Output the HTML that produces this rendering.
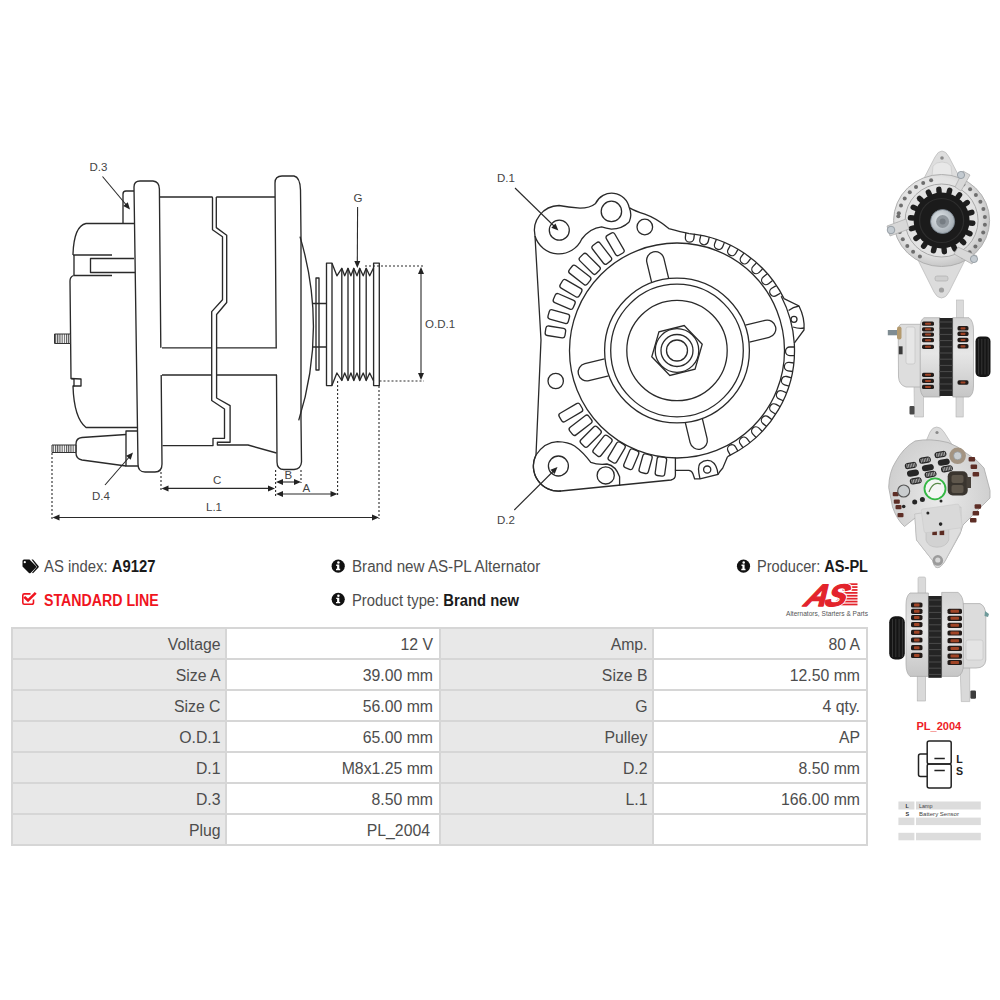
<!DOCTYPE html>
<html><head><meta charset="utf-8">
<style>
html,body{margin:0;padding:0;background:#fff;width:1000px;height:1000px;overflow:hidden;position:relative}
body{font-family:"Liberation Sans",sans-serif;color:#4d4d4d}
.abs{position:absolute;white-space:nowrap;transform-origin:0 0}
.t{font-size:15.8px;line-height:18px}
.b{font-weight:bold;color:#1a1a1a}
.red{color:#f0141e;font-weight:bold}
table.spec{position:absolute;left:11px;top:627px;border-collapse:collapse;table-layout:fixed}
table.spec td{border:2px solid #d6d6d6;height:26.5px;padding:2.5px 6px 0 0;text-align:right;font-size:15.8px;color:#4d4d4d;line-height:26.5px;white-space:nowrap}
table.spec td.l{background:#e8e8e8;padding-right:4.5px}
</style></head>
<body>
<svg width="1000" height="1000" viewBox="0 0 1000 1000" style="position:absolute;left:0;top:0">
<defs>
<pattern id="thr" width="2.2" height="10" patternUnits="userSpaceOnUse"><rect width="2.2" height="10" fill="#fff"/><rect width="1.1" height="10" fill="#555"/></pattern>

<radialGradient id="g1" cx="0.45" cy="0.45" r="0.6"><stop offset="0" stop-color="#eeeeee"/><stop offset="0.7" stop-color="#e2e2e2"/><stop offset="1" stop-color="#bdbdbd"/></radialGradient>
<radialGradient id="g2" cx="0.4" cy="0.4" r="0.7"><stop offset="0" stop-color="#e5eaee"/><stop offset="1" stop-color="#9aa3aa"/></radialGradient>
<linearGradient id="g3" x1="0" y1="0" x2="0" y2="1"><stop offset="0" stop-color="#d4d4d4"/><stop offset="0.45" stop-color="#e6e6e6"/><stop offset="1" stop-color="#c6c6c6"/></linearGradient>
<radialGradient id="g4" cx="0.5" cy="0.45" r="0.65"><stop offset="0" stop-color="#eaeaea"/><stop offset="1" stop-color="#c8c8c8"/></radialGradient>

</defs>
<g fill="none" stroke="#2a2a2a" stroke-width="1.35" stroke-linejoin="round">
<path d="M160.8,347.8 L159.4,189 Q159.2,181.5 153,181 L140,181 Q134,181 134,187 L138,464 Q138,472 145,472 L155,472 Q162,472 162,464 L161.2,375"/>
<path d="M134,191 L126,191 Q123,191 123,194 L123,223"/>
<path d="M134,223.5 L86,223.5 Q74,226 73,254 L73,255"/>
<path d="M73,255 L112,255"/>
<path d="M134,258.5 L90.5,258.5 L90.5,272.5 L135,272.5"/>
<path d="M74,255 L74,275.5"/>
<path d="M73.5,275.5 L112,275.5"/>
<path d="M73.5,275.5 Q70,277 70,281 L71,378.5 L74,379 L74,386 L73,386 Q74,418 86,427.5 L138,427.5"/>
<path d="M71,378.5 L81,379 L81,386 L73,386"/>
<rect x="54.5" y="334" width="16" height="9.5" fill="url(#thr)" stroke="#333" stroke-width="1"/>
<path d="M126,434.5 L82,437.5 Q76,438 76,444 L76,453 Q76,459 82,460 L126,466"/>
<path d="M138,431 L126,431 L126,466 L138,466"/>
<rect x="52" y="445" width="24" height="7.5" fill="url(#thr)" stroke="#333" stroke-width="1"/>
<path d="M160,197 L212,197 Q212.5,197 212.5,198 L212.5,229.7 L222.5,236.7 L222.5,299.7 L211.7,311.6 L211.7,400.5 L224.5,409 L224.5,438.3 L213,438.3 L213,445.6 L162.5,445.6"/>
<path d="M216.3,197 L275,197"/>
<path d="M216.3,197 L216.3,227.6 L226.7,235.3 L226.7,302.5 L216.6,314.5 L216.6,398 L230.1,405.6 L230.1,442.2 L217.4,442.2 L217.4,445 L248,445 L276.5,453"/>
<path d="M162,347.8 L211.7,347.8 M216.6,347.8 L277,347.8"/>
<path d="M162,375 L211.7,375 M216.6,375 L277,375"/>
<path d="M276.2,347.8 L275,183 Q275,176 282,176 L294,176 Q300,177 300.5,190 L301,237 L301,420 L301.5,462 Q301,469 294,469.5 L284,469.5 Q277,469.5 277,462 L276.5,375"/>
<path d="M300,236.6 Q327.5,328.5 298.7,420.4"/>
<path d="M316,278 L319,278 L319,370 L316,370 Z"/>
<path d="M313,303.5 L326.5,303.5 M313,347 L326.5,347"/>
<path d="M326.5,385.6 L326.5,263.1 L332,263.1 L332,385.6 Z"/>
<path d="M373.6,385.6 L373.6,263.1 L379.3,263.1 L379.3,385.6 Z"/>
<path d="M332,263.3 L336.9,275.8 L341.8,268.3 L344.7,275.8 L348,268.3 L350.9,275.8 L353.8,268.3 L357,275.8 L359.7,268.3 L363.2,275.8 L366.2,268.3 L369.7,275.8 L373.6,267.7"/>
<path d="M332,385.3 L336.9,373 L341.8,380.5 L344.7,373 L348,380.5 L350.9,373 L353.8,380.5 L357,373 L359.7,380.5 L363.2,373 L366.2,380.5 L369.7,373 L373.6,381"/>
<path d="M341.8,268.3 L341.8,380.5"/>
<path d="M348,268.3 L348,380.5"/>
<path d="M353.8,268.3 L353.8,380.5"/>
<path d="M359.7,268.3 L359.7,380.5"/>
<path d="M366.2,268.3 L366.2,380.5"/>
</g>
<g fill="none" stroke="#2a2a2a" stroke-width="1.1">
<path d="M102.5,176.5 L128,207"/>
<path d="M0,0 L-7,-3 L-7,3 Z" transform="translate(130,209.5) rotate(50)" fill="#222" stroke="none"/>
<path d="M357.6,207 L357.3,262"/>
<path d="M0,0 L-7,-3 L-7,3 Z" transform="translate(357.3,268) rotate(90)" fill="#222" stroke="none"/>
<path d="M365,266 L423,266" stroke-dasharray="2,2"/>
<path d="M379.5,381 L424,381" stroke-dasharray="2,2"/>
<path d="M421,272 L421,373"/>
<path d="M0,0 L-7,-3 L-7,3 Z" transform="translate(421,267) rotate(-90)" fill="#222" stroke="none"/>
<path d="M0,0 L-7,-3 L-7,3 Z" transform="translate(421,380) rotate(90)" fill="#222" stroke="none"/>
<path d="M105,485 L131,455"/>
<path d="M0,0 L-7,-3 L-7,3 Z" transform="translate(133,452.5) rotate(-49)" fill="#222" stroke="none"/>
<path d="M161,472 L161,491" stroke-dasharray="2,2"/>
<path d="M52,453 L52,519" stroke-dasharray="2,2"/>
<path d="M275.6,470 L275.6,497" stroke-dasharray="2,2"/>
<path d="M301,470 L301,483" stroke-dasharray="2,2"/>
<path d="M337.6,381 L337.6,497" stroke-dasharray="2,2"/>
<path d="M379,386 L379,519" stroke-dasharray="2,2"/>
<path d="M166,488.4 L271,488.4"/>
<path d="M0,0 L-7,-3 L-7,3 Z" transform="translate(161.5,488.4) rotate(180)" fill="#222" stroke="none"/>
<path d="M0,0 L-7,-3 L-7,3 Z" transform="translate(275,488.4) rotate(0)" fill="#222" stroke="none"/>
<path d="M281,482 L296,482"/>
<path d="M0,0 L-7,-3 L-7,3 Z" transform="translate(276,482) rotate(180)" fill="#222" stroke="none"/>
<path d="M0,0 L-7,-3 L-7,3 Z" transform="translate(301,482) rotate(0)" fill="#222" stroke="none"/>
<path d="M281,494 L333,494"/>
<path d="M0,0 L-7,-3 L-7,3 Z" transform="translate(276,494) rotate(180)" fill="#222" stroke="none"/>
<path d="M0,0 L-7,-3 L-7,3 Z" transform="translate(337.5,494) rotate(0)" fill="#222" stroke="none"/>
<path d="M57,517.5 L374,517.5"/>
<path d="M0,0 L-7,-3 L-7,3 Z" transform="translate(52.5,517.5) rotate(180)" fill="#222" stroke="none"/>
<path d="M0,0 L-7,-3 L-7,3 Z" transform="translate(379,517.5) rotate(0)" fill="#222" stroke="none"/>
</g>
<g fill="none" stroke="#2a2a2a" stroke-width="1.3">
<path d="M535,236 L541,340 L536,455 A25,25 0 0 0 561,491 L671,480 Q675.4,479 675.4,475 L675.4,470.4 L689,470.4 Q692,471 693,474 L694.6,478.8 L700,478.8 L718,474.5 Q720,471 722.8,468 L727.4,457"/>
<path d="M675.4,457.5 L675.4,470.4"/>
<path d="M700,478.8 Q697,467 700,463.5 Q705,459 711,461 Q717,464 718,474.5"/>
<path d="M727.4,457 L728.51,456.11 A117.5,117.5 0 0 0 794.28,343.33"/>
<path d="M794.28,343.33 L795,342 L804,330 Q805,318 799,306 L784,298.6"/>
<path d="M781.22,296.24 A117.5,117.5 0 0 1 794.28,343.33"/>
<path d="M788.6,310.5 Q793,307 799,306 M793,327 Q799,329 804.2,328"/>
<path d="M784,298.6 A117.5,117.5 0 0 0 689.28,233.64"/>
<path d="M689.28,233.64 Q681,232 668.8,228.6 Q656.8,218.4 644.8,214.2 Q635,211 629.2,207.6"/>
<path d="M629.2,207.6 A17.8,17.8 0 0 0 595.6,203.4 Q590,208 580,208.2 Q568,207 559,205.5 A25,25 0 0 0 535,236"/>
<path d="M535,236 A25,25 0 0 0 581.8,239 Q590,228 601.6,226.8 Q606,228 611.4,229.2 Q622,229 629.2,222"/>
<path d="M629.2,222 A17.8,17.8 0 0 0 629.2,207.6"/>
<path d="M536,455 Q545,442 557.5,441.7 Q568,442 574.6,446 Q583,452 590.8,462.4 Q598,465 607,464 Q616,466 619.6,476.8 L619.6,485.8"/>
<path d="M536,455 A25,25 0 0 0 561,491"/>
<circle cx="559.3" cy="230.2" r="10"/>
<circle cx="611.4" cy="211.4" r="10.2"/>
<circle cx="644.8" cy="227" r="7.8"/>
<circle cx="558.4" cy="466" r="10"/>
<circle cx="605.7" cy="475.4" r="8.6"/>
<circle cx="555.7" cy="381" r="7.7"/>
<circle cx="707.2" cy="469.6" r="3.6"/>
<circle cx="794" cy="319.3" r="3"/>
<circle cx="677" cy="350.5" r="107.5"/>
<circle cx="677" cy="350.5" r="72.4"/>
<circle cx="677" cy="350.5" r="66.3"/>
<circle cx="677" cy="350.5" r="50.2"/>
<circle cx="677" cy="350.5" r="21.8"/>
<circle cx="677" cy="350.5" r="16"/>
<circle cx="677" cy="350.5" r="10.5"/>
<polygon points="684.17,325.51 702.23,344.21 695.06,369.20 669.83,375.49 651.77,356.79 658.94,331.80"/>
<path d="M0,-8.75 L20.25,-8.75 A8.75,8.75 0 0 1 20.25,8.75 L0,8.75" transform="translate(660.10,280.10) rotate(-103.5)"/>
<path d="M0,-8.75 L20.25,-8.75 A8.75,8.75 0 0 1 20.25,8.75 L0,8.75" transform="translate(747.40,333.60) rotate(-13.5)"/>
<path d="M0,-8.75 L20.25,-8.75 A8.75,8.75 0 0 1 20.25,8.75 L0,8.75" transform="translate(693.90,420.90) rotate(76.5)"/>
<path d="M0,-8.75 L20.25,-8.75 A8.75,8.75 0 0 1 20.25,8.75 L0,8.75" transform="translate(606.60,367.40) rotate(166.5)"/>
<rect x="-11.50" y="-4.80" width="23.00" height="9.60" rx="2.5" transform="translate(615.13,244.19) rotate(-120.20)"/>
<rect x="-11.50" y="-4.80" width="23.00" height="9.60" rx="2.5" transform="translate(601.78,253.18) rotate(-127.70)"/>
<rect x="-11.50" y="-4.80" width="23.00" height="9.60" rx="2.5" transform="translate(589.72,263.83) rotate(-135.20)"/>
<rect x="-11.50" y="-4.80" width="23.00" height="9.60" rx="2.5" transform="translate(579.81,275.11) rotate(-142.20)"/>
<rect x="-11.00" y="-4.80" width="22.00" height="9.60" rx="2.5" transform="translate(570.91,288.26) rotate(-149.60)"/>
<rect x="-10.75" y="-4.80" width="21.50" height="9.60" rx="2.5" transform="translate(564.20,301.45) rotate(-156.50)"/>
<rect x="-10.50" y="-4.80" width="21.00" height="9.60" rx="2.5" transform="translate(558.76,316.60) rotate(-164.00)"/>
<rect x="-10.00" y="-4.80" width="20.00" height="9.60" rx="2.5" transform="translate(555.42,331.89) rotate(-171.30)"/>
<rect x="-12.00" y="-4.80" width="24.00" height="9.60" rx="2.5" transform="translate(570.80,412.56) rotate(149.70)"/>
<rect x="-12.00" y="-4.80" width="24.00" height="9.60" rx="2.5" transform="translate(580.60,425.27) rotate(142.20)"/>
<rect x="-11.50" y="-4.80" width="23.00" height="9.60" rx="2.5" transform="translate(590.73,436.77) rotate(135.00)"/>
<rect x="-11.00" y="-4.80" width="22.00" height="9.60" rx="2.5" transform="translate(602.50,445.85) rotate(128.00)"/>
<rect x="-10.50" y="-4.80" width="21.00" height="9.60" rx="2.5" transform="translate(616.68,452.50) rotate(120.60)"/>
<rect x="-10.00" y="-4.80" width="20.00" height="9.60" rx="2.5" transform="translate(631.27,459.28) rotate(112.80)"/>
<rect x="-9.50" y="-4.80" width="19.00" height="9.60" rx="2.5" transform="translate(645.60,463.73) rotate(105.50)"/>
<rect x="-9.50" y="-4.80" width="19.00" height="9.60" rx="2.5" transform="translate(660.92,466.39) rotate(97.90)"/>
<path d="M0,-4.3 L-4.70,-4.3 A4.3,4.3 0 0 0 -4.70,4.3 L0,4.3" transform="translate(690.15,233.24) rotate(-83.60)"/>
<path d="M0,-4.3 L-4.70,-4.3 A4.3,4.3 0 0 0 -4.70,4.3 L0,4.3" transform="translate(705.15,235.91) rotate(-76.20)"/>
<path d="M0,-4.3 L-4.70,-4.3 A4.3,4.3 0 0 0 -4.70,4.3 L0,4.3" transform="translate(720.44,240.79) rotate(-68.40)"/>
<path d="M0,-4.3 L-4.70,-4.3 A4.3,4.3 0 0 0 -4.70,4.3 L0,4.3" transform="translate(734.21,247.29) rotate(-61.00)"/>
<path d="M0,-4.3 L-4.70,-4.3 A4.3,4.3 0 0 0 -4.70,4.3 L0,4.3" transform="translate(747.35,255.77) rotate(-53.40)"/>
<path d="M0,-4.3 L-4.70,-4.3 A4.3,4.3 0 0 0 -4.70,4.3 L0,4.3" transform="translate(759.41,266.05) rotate(-45.70)"/>
<path d="M0,-4.3 L-4.70,-4.3 A4.3,4.3 0 0 0 -4.70,4.3 L0,4.3" transform="translate(769.60,277.37) rotate(-38.30)"/>
<path d="M0,-4.3 L-4.70,-4.3 A4.3,4.3 0 0 0 -4.70,4.3 L0,4.3" transform="translate(778.04,289.55) rotate(-31.10)"/>
<path d="M0,-4.3 L-4.70,-4.3 A4.3,4.3 0 0 0 -4.70,4.3 L0,4.3" transform="translate(794.50,351.32) rotate(0.40)"/>
<path d="M0,-4.3 L-4.70,-4.3 A4.3,4.3 0 0 0 -4.70,4.3 L0,4.3" transform="translate(793.30,367.26) rotate(8.20)"/>
<path d="M0,-4.3 L-4.70,-4.3 A4.3,4.3 0 0 0 -4.70,4.3 L0,4.3" transform="translate(790.23,381.90) rotate(15.50)"/>
<path d="M0,-4.3 L-4.70,-4.3 A4.3,4.3 0 0 0 -4.70,4.3 L0,4.3" transform="translate(785.00,396.79) rotate(23.20)"/>
<path d="M0,-4.3 L-4.70,-4.3 A4.3,4.3 0 0 0 -4.70,4.3 L0,4.3" transform="translate(778.03,410.49) rotate(30.70)"/>
<path d="M0,-4.3 L-4.70,-4.3 A4.3,4.3 0 0 0 -4.70,4.3 L0,4.3" transform="translate(769.34,423.16) rotate(38.20)"/>
<path d="M0,-4.3 L-4.70,-4.3 A4.3,4.3 0 0 0 -4.70,4.3 L0,4.3" transform="translate(759.21,434.45) rotate(45.60)"/>
<path d="M0,-4.3 L-4.70,-4.3 A4.3,4.3 0 0 0 -4.70,4.3 L0,4.3" transform="translate(746.56,445.20) rotate(53.70)"/>
<path d="M0,-4.3 L-4.70,-4.3 A4.3,4.3 0 0 0 -4.70,4.3 L0,4.3" transform="translate(734.14,453.17) rotate(60.90)"/>
</g>
<g fill="none" stroke="#2a2a2a" stroke-width="1.1">
<path d="M515,188 L555,227"/>
<path d="M0,0 L-7,-3 L-7,3 Z" transform="translate(558.4,230.5) rotate(44.5)" fill="#222" stroke="none"/>
<path d="M514.3,510 L554,470.5"/>
<path d="M0,0 L-7,-3 L-7,3 Z" transform="translate(557.5,467) rotate(-45)" fill="#222" stroke="none"/>
</g>
<g font-family="Liberation Sans" font-size="11.5" fill="#444">
<text x="89.4" y="171">D.3</text>
<text x="353.4" y="201.6">G</text>
<text x="425" y="328">O.D.1</text>
<text x="92" y="500">D.4</text>
<text x="213" y="484.4">C</text>
<text x="284.6" y="479">B</text>
<text x="302.6" y="491.6">A</text>
<text x="206" y="511">L.1</text>
<text x="497" y="182">D.1</text>
<text x="497" y="523.6">D.2</text>
</g>
<path d="M942,151 Q946,151 949,157 L965,188 L919,188 L935,157 Q938,151 942,151 Z" fill="#dedede" stroke="#bcbcbc" stroke-width="0.8"/>
<path d="M941.5,298 Q937,298 934,292 L917,258 L966,258 L949,292 Q946,298 941.5,298 Z" fill="#dcdcdc" stroke="#bcbcbc" stroke-width="0.8"/>
<circle cx="942" cy="158" r="1.8" fill="#8a8a8a"/>
<circle cx="941.5" cy="290" r="2.6" fill="#a0a0a0"/>
<rect x="935" y="276" width="13" height="5" rx="2" fill="#cfcfcf" stroke="#aaa" stroke-width="0.6"/>
<path d="M933,166 Q936,162 942,162 Q948,162 951,166 L952,176 L932,176 Z" fill="#e8e8e8" stroke="#c4c4c4" stroke-width="0.6"/>
<ellipse cx="941.6" cy="220.5" rx="48" ry="46" fill="url(#g1)" stroke="#b0b0b0" stroke-width="1"/>
<circle cx="898.8" cy="213.3" r="2" fill="#6e6e6e"/>
<circle cx="901.0" cy="205.6" r="2" fill="#6e6e6e"/>
<circle cx="904.7" cy="198.5" r="2" fill="#6e6e6e"/>
<circle cx="909.8" cy="192.2" r="2" fill="#6e6e6e"/>
<circle cx="916.0" cy="186.9" r="2" fill="#6e6e6e"/>
<circle cx="923.2" cy="182.9" r="2" fill="#6e6e6e"/>
<circle cx="931.1" cy="180.2" r="2" fill="#6e6e6e"/>
<circle cx="963.4" cy="184.6" r="2" fill="#6e6e6e"/>
<circle cx="970.1" cy="189.2" r="2" fill="#6e6e6e"/>
<circle cx="975.9" cy="195.0" r="2" fill="#6e6e6e"/>
<circle cx="980.4" cy="201.7" r="2" fill="#6e6e6e"/>
<circle cx="983.4" cy="209.1" r="2" fill="#6e6e6e"/>
<circle cx="984.9" cy="216.9" r="2" fill="#6e6e6e"/>
<circle cx="984.9" cy="224.8" r="2" fill="#6e6e6e"/>
<circle cx="983.2" cy="232.6" r="2" fill="#6e6e6e"/>
<circle cx="980.0" cy="240.0" r="2" fill="#6e6e6e"/>
<circle cx="975.4" cy="246.6" r="2" fill="#6e6e6e"/>
<circle cx="969.6" cy="252.3" r="2" fill="#6e6e6e"/>
<circle cx="962.7" cy="256.8" r="2" fill="#6e6e6e"/>
<circle cx="919.9" cy="256.4" r="2" fill="#6e6e6e"/>
<circle cx="913.1" cy="251.8" r="2" fill="#6e6e6e"/>
<circle cx="907.3" cy="246.0" r="2" fill="#6e6e6e"/>
<circle cx="902.8" cy="239.3" r="2" fill="#6e6e6e"/>
<circle cx="899.8" cy="231.9" r="2" fill="#6e6e6e"/>
<circle cx="898.3" cy="224.1" r="2" fill="#6e6e6e"/>
<circle cx="898.3" cy="216.2" r="2" fill="#6e6e6e"/>
<circle cx="941.6" cy="220.5" r="36.5" fill="#e2e2e2" stroke="#a8a8a8" stroke-width="1"/>
<rect x="-4" y="-2.7" width="8" height="5.4" rx="2.6" fill="#1e1e1e" transform="translate(941.6,220.5) rotate(5) translate(30,0)"/>
<rect x="-4" y="-2.7" width="8" height="5.4" rx="2.6" fill="#1e1e1e" transform="translate(941.6,220.5) rotate(25) translate(30,0)"/>
<rect x="-4" y="-2.7" width="8" height="5.4" rx="2.6" fill="#1e1e1e" transform="translate(941.6,220.5) rotate(45) translate(30,0)"/>
<rect x="-4" y="-2.7" width="8" height="5.4" rx="2.6" fill="#1e1e1e" transform="translate(941.6,220.5) rotate(65) translate(30,0)"/>
<rect x="-4" y="-2.7" width="8" height="5.4" rx="2.6" fill="#1e1e1e" transform="translate(941.6,220.5) rotate(85) translate(30,0)"/>
<rect x="-4" y="-2.7" width="8" height="5.4" rx="2.6" fill="#1e1e1e" transform="translate(941.6,220.5) rotate(105) translate(30,0)"/>
<rect x="-4" y="-2.7" width="8" height="5.4" rx="2.6" fill="#1e1e1e" transform="translate(941.6,220.5) rotate(125) translate(30,0)"/>
<rect x="-4" y="-2.7" width="8" height="5.4" rx="2.6" fill="#1e1e1e" transform="translate(941.6,220.5) rotate(145) translate(30,0)"/>
<rect x="-4" y="-2.7" width="8" height="5.4" rx="2.6" fill="#1e1e1e" transform="translate(941.6,220.5) rotate(165) translate(30,0)"/>
<rect x="-4" y="-2.7" width="8" height="5.4" rx="2.6" fill="#1e1e1e" transform="translate(941.6,220.5) rotate(185) translate(30,0)"/>
<rect x="-4" y="-2.7" width="8" height="5.4" rx="2.6" fill="#1e1e1e" transform="translate(941.6,220.5) rotate(205) translate(30,0)"/>
<rect x="-4" y="-2.7" width="8" height="5.4" rx="2.6" fill="#1e1e1e" transform="translate(941.6,220.5) rotate(225) translate(30,0)"/>
<rect x="-4" y="-2.7" width="8" height="5.4" rx="2.6" fill="#1e1e1e" transform="translate(941.6,220.5) rotate(245) translate(30,0)"/>
<rect x="-4" y="-2.7" width="8" height="5.4" rx="2.6" fill="#1e1e1e" transform="translate(941.6,220.5) rotate(265) translate(30,0)"/>
<rect x="-4" y="-2.7" width="8" height="5.4" rx="2.6" fill="#1e1e1e" transform="translate(941.6,220.5) rotate(285) translate(30,0)"/>
<rect x="-4" y="-2.7" width="8" height="5.4" rx="2.6" fill="#1e1e1e" transform="translate(941.6,220.5) rotate(305) translate(30,0)"/>
<rect x="-4" y="-2.7" width="8" height="5.4" rx="2.6" fill="#1e1e1e" transform="translate(941.6,220.5) rotate(325) translate(30,0)"/>
<rect x="-4" y="-2.7" width="8" height="5.4" rx="2.6" fill="#1e1e1e" transform="translate(941.6,220.5) rotate(345) translate(30,0)"/>
<circle cx="941.6" cy="220.5" r="28" fill="#1b1b1b"/>
<circle cx="941.6" cy="220.5" r="22" fill="none" stroke="#2e2e2e" stroke-width="1.2"/>
<circle cx="942.6" cy="221.5" r="12" fill="url(#g2)" stroke="#7a8590" stroke-width="0.8"/>
<circle cx="942.6" cy="221.5" r="6.5" fill="#8f969c"/>
<circle cx="942.6" cy="221.5" r="3" fill="#767d83"/>
<path d="M887,226 L906,219 L909,229 L890,236 Z" fill="#d8d8d8" stroke="#a9a9a9" stroke-width="0.7"/>
<circle cx="891" cy="230" r="3.8" fill="#c3cad0" stroke="#8a939a" stroke-width="0.8"/>
<path d="M955,187 L963,171 L970,175 L961,191 Z" fill="#d8d8d8" stroke="#a9a9a9" stroke-width="0.7"/>
<circle cx="961" cy="175" r="3.6" fill="#c3cad0" stroke="#8a939a" stroke-width="0.8"/>
<path d="M958,247 L977,256 L972,264 L954,254 Z" fill="#d8d8d8" stroke="#a9a9a9" stroke-width="0.7"/>
<circle cx="974" cy="259" r="3.6" fill="#c3cad0" stroke="#8a939a" stroke-width="0.8"/>
<rect x="956.5" y="300" width="6.8" height="20" fill="#dadada" stroke="#b8b8b8" stroke-width="0.6"/>
<path d="M914,386 L923.5,386 L923.5,417 L914.5,417 Z" fill="#d9d9d9" stroke="#b3b3b3" stroke-width="0.6"/>
<rect x="909.5" y="406" width="5" height="8.5" rx="1" fill="#4a4a4a"/>
<rect x="956" y="392" width="7.2" height="25" fill="#d9d9d9" stroke="#b3b3b3" stroke-width="0.6"/>
<path d="M901,324.3 L921,324.3 L921,387 L906,387 Q899,385 898.5,377 L898.2,331 Q898.5,325 901,324.3 Z" fill="#dddddd" stroke="#b0b0b0" stroke-width="0.8"/>
<rect x="906" y="327" width="9" height="37" rx="2" fill="#e6e6e6" stroke="#c0c0c0" stroke-width="0.6"/>
<rect x="898.8" y="346.3" width="3.8" height="8" fill="#3a3a3a"/>
<path d="M887.8,330 L897,330 L897,335.3 L887.8,335.3 Z" fill="#7f8c92"/>
<rect x="897" y="326.5" width="4.5" height="13" rx="2" fill="#b49a6e"/>
<path d="M924,317.7 L940,317.7 L940,397 L924,397 Q920.2,394 920.2,386 L920.2,328 Q920.2,320 924,317.7 Z" fill="url(#g3)" stroke="#a8a8a8" stroke-width="0.7"/>
<path d="M952.7,317.7 L969,317.7 Q973.5,321 973.5,330 L973.5,386 Q973.5,395 969,397 L952.7,397 Z" fill="url(#g3)" stroke="#a8a8a8" stroke-width="0.7"/>
<rect x="922" y="321.6" width="12" height="4.2" rx="1.6" fill="#221b19"/>
<rect x="925.0" y="322.7" width="6.0" height="2.0" rx="0.8" fill="#a04426"/>
<rect x="922" y="327.2" width="12" height="4.2" rx="1.6" fill="#221b19"/>
<rect x="925.0" y="328.3" width="6.0" height="2.0" rx="0.8" fill="#a04426"/>
<rect x="922" y="332.5" width="12" height="4.2" rx="1.6" fill="#221b19"/>
<rect x="925.0" y="333.6" width="6.0" height="2.0" rx="0.8" fill="#a04426"/>
<rect x="922" y="338.1" width="12" height="4.2" rx="1.6" fill="#221b19"/>
<rect x="925.0" y="339.2" width="6.0" height="2.0" rx="0.8" fill="#a04426"/>
<rect x="922" y="344.7" width="12" height="4.2" rx="1.6" fill="#221b19"/>
<rect x="925.0" y="345.8" width="6.0" height="2.0" rx="0.8" fill="#a04426"/>
<rect x="922" y="372.7" width="12" height="4.2" rx="1.6" fill="#221b19"/>
<rect x="925.0" y="373.8" width="6.0" height="2.0" rx="0.8" fill="#a04426"/>
<rect x="922" y="378.8" width="12" height="4.2" rx="1.6" fill="#221b19"/>
<rect x="925.0" y="379.9" width="6.0" height="2.0" rx="0.8" fill="#a04426"/>
<rect x="922" y="384.8" width="12" height="4.2" rx="1.6" fill="#221b19"/>
<rect x="925.0" y="385.9" width="6.0" height="2.0" rx="0.8" fill="#a04426"/>
<rect x="957.5" y="326.1" width="11.0" height="4.4" rx="1.6" fill="#221b19"/>
<rect x="960.5" y="327.2" width="5.0" height="2.2" rx="0.8" fill="#a04426"/>
<rect x="957.5" y="331.6" width="11.0" height="4.4" rx="1.6" fill="#221b19"/>
<rect x="960.5" y="332.7" width="5.0" height="2.2" rx="0.8" fill="#a04426"/>
<rect x="957.5" y="337.8" width="11.0" height="4.4" rx="1.6" fill="#221b19"/>
<rect x="960.5" y="338.9" width="5.0" height="2.2" rx="0.8" fill="#a04426"/>
<rect x="957.5" y="344.1" width="11.0" height="4.4" rx="1.6" fill="#221b19"/>
<rect x="960.5" y="345.2" width="5.0" height="2.2" rx="0.8" fill="#a04426"/>
<rect x="957.5" y="380.3" width="11.0" height="4.4" rx="1.6" fill="#221b19"/>
<rect x="960.5" y="381.4" width="5.0" height="2.2" rx="0.8" fill="#a04426"/>
<rect x="939.5" y="318" width="13.200000000000045" height="78" fill="#242424"/>
<line x1="939.5" y1="322.0" x2="952.7" y2="322.0" stroke="#565656" stroke-width="0.8"/>
<line x1="939.5" y1="328.2" x2="952.7" y2="328.2" stroke="#565656" stroke-width="0.8"/>
<line x1="939.5" y1="334.4" x2="952.7" y2="334.4" stroke="#565656" stroke-width="0.8"/>
<line x1="939.5" y1="340.6" x2="952.7" y2="340.6" stroke="#565656" stroke-width="0.8"/>
<line x1="939.5" y1="346.8" x2="952.7" y2="346.8" stroke="#565656" stroke-width="0.8"/>
<line x1="939.5" y1="353.0" x2="952.7" y2="353.0" stroke="#565656" stroke-width="0.8"/>
<line x1="939.5" y1="359.2" x2="952.7" y2="359.2" stroke="#565656" stroke-width="0.8"/>
<line x1="939.5" y1="365.4" x2="952.7" y2="365.4" stroke="#565656" stroke-width="0.8"/>
<line x1="939.5" y1="371.6" x2="952.7" y2="371.6" stroke="#565656" stroke-width="0.8"/>
<line x1="939.5" y1="377.8" x2="952.7" y2="377.8" stroke="#565656" stroke-width="0.8"/>
<line x1="939.5" y1="384.0" x2="952.7" y2="384.0" stroke="#565656" stroke-width="0.8"/>
<line x1="939.5" y1="390.2" x2="952.7" y2="390.2" stroke="#565656" stroke-width="0.8"/>
<rect x="975.5" y="336.4" width="15" height="40.6" rx="5" fill="#151515"/>
<line x1="978.6" y1="339" x2="978.6" y2="374.5" stroke="#3a3a3a" stroke-width="0.9"/>
<line x1="981.8" y1="339" x2="981.8" y2="374.5" stroke="#3a3a3a" stroke-width="0.9"/>
<line x1="985" y1="339" x2="985" y2="374.5" stroke="#3a3a3a" stroke-width="0.9"/>
<line x1="988.2" y1="339" x2="988.2" y2="374.5" stroke="#3a3a3a" stroke-width="0.9"/>
<path d="M936.7,427 Q941,427 944,432 L953,446 L924,446 L930,432 Q932.5,427 936.7,427 Z" fill="#dcdcdc" stroke="#b5b5b5" stroke-width="0.7"/>
<circle cx="937" cy="432.5" r="1.6" fill="#8a8a8a"/>
<path d="M915,441 Q930,438 948,442.5 Q958,446 966,453 Q978,460 984,468 L990,490.5 L990,498 Q982,506 975,513 L963,525 L960,534 L945,561 Q941,567.7 937.5,567.7 Q934,567.7 933,561 L916.5,540 L915,518 L904.5,526.5 Q897,520 892.5,507 L888.7,487.5 Q889,472 895.5,462 Q903,448 915,441 Z" fill="url(#g4)" stroke="#a8a8a8" stroke-width="0.8"/>
<path d="M914.7,514 L961,507 L961,531 L945,561 Q941,567.5 937.5,567.5 Q934,567.5 933,561 L916.5,540 Z" fill="#dedede" stroke="#b8b8b8" stroke-width="0.6"/>
<path d="M926,520 L948.8,520 L948.8,540 Q946,547.2 937,547.2 Q928,547 926,540 Z" fill="#d2d2d2" stroke="#bbb" stroke-width="0.6"/>
<rect x="932.3" y="529.6" width="4.6" height="5.5" fill="#5a2a20"/><rect x="939.6" y="529.6" width="4.6" height="5.5" fill="#5a2a20"/>
<circle cx="937.8" cy="560.4" r="5.3" fill="#9c9c9c"/><circle cx="937.8" cy="560" r="2.6" fill="#d8d8d8"/>
<rect x="922.4" y="506.5" width="38.5" height="24" rx="2" fill="#d9d9d9" stroke="#c8c8c8" stroke-width="0.5" transform="rotate(-8 941 518)"/>
<rect x="892.7" y="492" width="6" height="4.2" rx="1" fill="#5e2e26"/>
<rect x="893.8" y="499.5" width="6" height="4.2" rx="1" fill="#5e2e26"/>
<rect x="895.5" y="505" width="6" height="4.2" rx="1" fill="#5e2e26"/>
<rect x="897.5" y="513" width="6" height="4.2" rx="1" fill="#5e2e26"/>
<rect x="968.6" y="457" width="6.5" height="4.4" rx="1" fill="#5e2e26"/>
<rect x="970.6" y="464.5" width="6.5" height="4.4" rx="1" fill="#5e2e26"/>
<rect x="972.6" y="472" width="6.5" height="4.4" rx="1" fill="#5e2e26"/>
<rect x="974.6" y="504.3" width="6.5" height="4.4" rx="1" fill="#5e2e26"/>
<rect x="972.6" y="511" width="6.5" height="4.4" rx="1" fill="#5e2e26"/>
<rect x="970" y="518" width="6.5" height="4.4" rx="1" fill="#5e2e26"/>
<g transform="rotate(-10 910.8 465.7)"><rect x="904.8" y="462.4" width="12" height="6.2" rx="3" fill="#262626"/><line x1="907.0" y1="463.59999999999997" x2="907.0" y2="467.4" stroke="#d5d5d5" stroke-width="0.7"/><line x1="908.6" y1="463.59999999999997" x2="908.6" y2="467.4" stroke="#d5d5d5" stroke-width="0.7"/><line x1="910.2" y1="463.59999999999997" x2="910.2" y2="467.4" stroke="#d5d5d5" stroke-width="0.7"/><line x1="911.8" y1="463.59999999999997" x2="911.8" y2="467.4" stroke="#d5d5d5" stroke-width="0.7"/><line x1="913.4" y1="463.59999999999997" x2="913.4" y2="467.4" stroke="#d5d5d5" stroke-width="0.7"/><line x1="915.0" y1="463.59999999999997" x2="915.0" y2="467.4" stroke="#d5d5d5" stroke-width="0.7"/></g>
<g transform="rotate(-10 913 473.3)"><rect x="907" y="470" width="12" height="6.2" rx="3" fill="#262626"/></g>
<g transform="rotate(-10 915.8 481.1)"><rect x="909.8" y="477.8" width="12" height="6.2" rx="3" fill="#262626"/><line x1="912.0" y1="479.0" x2="912.0" y2="482.8" stroke="#d5d5d5" stroke-width="0.7"/><line x1="913.6" y1="479.0" x2="913.6" y2="482.8" stroke="#d5d5d5" stroke-width="0.7"/><line x1="915.2" y1="479.0" x2="915.2" y2="482.8" stroke="#d5d5d5" stroke-width="0.7"/><line x1="916.8" y1="479.0" x2="916.8" y2="482.8" stroke="#d5d5d5" stroke-width="0.7"/><line x1="918.4" y1="479.0" x2="918.4" y2="482.8" stroke="#d5d5d5" stroke-width="0.7"/><line x1="920.0" y1="479.0" x2="920.0" y2="482.8" stroke="#d5d5d5" stroke-width="0.7"/></g>
<g transform="rotate(-10 925 460.3)"><rect x="919" y="457" width="12" height="6.2" rx="3" fill="#262626"/><line x1="921.2" y1="458.2" x2="921.2" y2="462" stroke="#d5d5d5" stroke-width="0.7"/><line x1="922.8" y1="458.2" x2="922.8" y2="462" stroke="#d5d5d5" stroke-width="0.7"/><line x1="924.4" y1="458.2" x2="924.4" y2="462" stroke="#d5d5d5" stroke-width="0.7"/><line x1="926.0" y1="458.2" x2="926.0" y2="462" stroke="#d5d5d5" stroke-width="0.7"/><line x1="927.6" y1="458.2" x2="927.6" y2="462" stroke="#d5d5d5" stroke-width="0.7"/><line x1="929.2" y1="458.2" x2="929.2" y2="462" stroke="#d5d5d5" stroke-width="0.7"/></g>
<g transform="rotate(-10 927.9 467.90000000000003)"><rect x="921.9" y="464.6" width="12" height="6.2" rx="3" fill="#262626"/></g>
<g transform="rotate(-10 930.6 474.5)"><rect x="924.6" y="471.2" width="12" height="6.2" rx="3" fill="#262626"/><line x1="926.8" y1="472.4" x2="926.8" y2="476.2" stroke="#d5d5d5" stroke-width="0.7"/><line x1="928.4" y1="472.4" x2="928.4" y2="476.2" stroke="#d5d5d5" stroke-width="0.7"/><line x1="930.0" y1="472.4" x2="930.0" y2="476.2" stroke="#d5d5d5" stroke-width="0.7"/><line x1="931.6" y1="472.4" x2="931.6" y2="476.2" stroke="#d5d5d5" stroke-width="0.7"/><line x1="933.2" y1="472.4" x2="933.2" y2="476.2" stroke="#d5d5d5" stroke-width="0.7"/><line x1="934.8" y1="472.4" x2="934.8" y2="476.2" stroke="#d5d5d5" stroke-width="0.7"/></g>
<g transform="rotate(-10 940.5 454.7)"><rect x="934.5" y="451.4" width="12" height="6.2" rx="3" fill="#262626"/><line x1="936.7" y1="452.59999999999997" x2="936.7" y2="456.4" stroke="#d5d5d5" stroke-width="0.7"/><line x1="938.3" y1="452.59999999999997" x2="938.3" y2="456.4" stroke="#d5d5d5" stroke-width="0.7"/><line x1="939.9" y1="452.59999999999997" x2="939.9" y2="456.4" stroke="#d5d5d5" stroke-width="0.7"/><line x1="941.5" y1="452.59999999999997" x2="941.5" y2="456.4" stroke="#d5d5d5" stroke-width="0.7"/><line x1="943.1" y1="452.59999999999997" x2="943.1" y2="456.4" stroke="#d5d5d5" stroke-width="0.7"/><line x1="944.7" y1="452.59999999999997" x2="944.7" y2="456.4" stroke="#d5d5d5" stroke-width="0.7"/></g>
<g transform="rotate(-10 943.8 462.40000000000003)"><rect x="937.8" y="459.1" width="12" height="6.2" rx="3" fill="#262626"/></g>
<g transform="rotate(-10 947 469.0)"><rect x="941" y="465.7" width="12" height="6.2" rx="3" fill="#262626"/><line x1="943.2" y1="466.9" x2="943.2" y2="470.7" stroke="#d5d5d5" stroke-width="0.7"/><line x1="944.8" y1="466.9" x2="944.8" y2="470.7" stroke="#d5d5d5" stroke-width="0.7"/><line x1="946.4" y1="466.9" x2="946.4" y2="470.7" stroke="#d5d5d5" stroke-width="0.7"/><line x1="948.0" y1="466.9" x2="948.0" y2="470.7" stroke="#d5d5d5" stroke-width="0.7"/><line x1="949.6" y1="466.9" x2="949.6" y2="470.7" stroke="#d5d5d5" stroke-width="0.7"/><line x1="951.2" y1="466.9" x2="951.2" y2="470.7" stroke="#d5d5d5" stroke-width="0.7"/></g>
<circle cx="957.6" cy="455.8" r="8.3" fill="#a39482"/><circle cx="957.6" cy="455.8" r="4" fill="#c9ced2" stroke="#8a9096" stroke-width="0.6"/>
<rect x="947.7" y="471.2" width="20" height="24.2" rx="5" fill="#3a352f"/>
<rect x="951.5" y="475" width="12" height="8" rx="2" fill="#5f574c"/><rect x="951.5" y="485" width="12" height="8" rx="2" fill="#5f574c"/>
<rect x="966.5" y="477" width="4.5" height="11" fill="#47413a"/>
<circle cx="935" cy="488.8" r="10.5" fill="#f4f6f4" stroke="#34b844" stroke-width="1.8"/>
<path d="M929,492 Q933,481 941,484" fill="none" stroke="#5a8a4a" stroke-width="1.2"/>
<circle cx="903.7" cy="491" r="6" fill="#c9ccce" stroke="#555" stroke-width="1.1"/>
<circle cx="914.7" cy="502.1" r="2.5" fill="#262626"/>
<circle cx="922.4" cy="499.4" r="2.5" fill="#262626"/>
<circle cx="903.7" cy="506.5" r="1.8" fill="#262626"/>
<circle cx="927.9" cy="513.1" r="1.5" fill="#262626"/>
<circle cx="940.6" cy="524.1" r="1.8" fill="#262626"/>
<circle cx="941" cy="501" r="1.5" fill="#262626"/>
<rect x="918" y="577" width="7.6" height="18" rx="1.5" fill="#dadada" stroke="#b5b5b5" stroke-width="0.6"/>
<rect x="917.2" y="672" width="8.4" height="29" fill="#d9d9d9" stroke="#b0b0b0" stroke-width="0.6"/>
<path d="M960,666 L969.7,666 L969.7,701.6 L961.3,701.6 Z" fill="#d9d9d9" stroke="#b0b0b0" stroke-width="0.6"/>
<rect x="970.4" y="690.4" width="5.6" height="8.4" rx="1.2" fill="#3c3c3c"/>
<path d="M962.7,603.6 L980,603.6 Q985.8,606 985.8,616 L985.8,660 Q985,668 976,668 L962.7,668 Z" fill="#dcdcdc" stroke="#adadad" stroke-width="0.8"/>
<rect x="966" y="640" width="17" height="20" rx="2" fill="#e4e4e4" stroke="#c2c2c2" stroke-width="0.6"/>
<path d="M985,611 L989,614 L988,617 L984.5,616 Z" fill="#6f9a9a"/>
<path d="M910,593 L928.4,593 L928.4,676.4 L910,676.4 Q906,673 906,664 L906,605 Q906,596 910,593 Z" fill="url(#g3)" stroke="#a8a8a8" stroke-width="0.7"/>
<path d="M941.7,592.4 L958,592.4 Q963.4,596 963.4,606 L963.4,664 Q963.4,674 958,676.4 L941.7,676.4 Z" fill="url(#g3)" stroke="#a8a8a8" stroke-width="0.7"/>
<rect x="911" y="602.4" width="11.5" height="5.2" rx="1.6" fill="#221b19"/>
<rect x="914.0" y="603.5" width="5.5" height="3.0" rx="0.8" fill="#a04426"/>
<rect x="911" y="608.7" width="11.5" height="5.2" rx="1.6" fill="#221b19"/>
<rect x="914.0" y="609.8" width="5.5" height="3.0" rx="0.8" fill="#a04426"/>
<rect x="911" y="615.0" width="11.5" height="5.2" rx="1.6" fill="#221b19"/>
<rect x="914.0" y="616.1" width="5.5" height="3.0" rx="0.8" fill="#a04426"/>
<rect x="911" y="622.0" width="11.5" height="5.2" rx="1.6" fill="#221b19"/>
<rect x="914.0" y="623.1" width="5.5" height="3.0" rx="0.8" fill="#a04426"/>
<rect x="911" y="629.7" width="11.5" height="5.2" rx="1.6" fill="#221b19"/>
<rect x="914.0" y="630.8" width="5.5" height="3.0" rx="0.8" fill="#a04426"/>
<rect x="911" y="637.4" width="11.5" height="5.2" rx="1.6" fill="#221b19"/>
<rect x="914.0" y="638.5" width="5.5" height="3.0" rx="0.8" fill="#a04426"/>
<rect x="911" y="645.1" width="11.5" height="5.2" rx="1.6" fill="#221b19"/>
<rect x="914.0" y="646.2" width="5.5" height="3.0" rx="0.8" fill="#a04426"/>
<rect x="911" y="652.8" width="11.5" height="5.2" rx="1.6" fill="#221b19"/>
<rect x="914.0" y="653.9" width="5.5" height="3.0" rx="0.8" fill="#a04426"/>
<rect x="947.5" y="608.7" width="14.5" height="5.2" rx="1.6" fill="#221b19"/>
<rect x="950.5" y="609.8" width="8.5" height="3.0" rx="0.8" fill="#a04426"/>
<rect x="947.5" y="615.7" width="14.5" height="5.2" rx="1.6" fill="#221b19"/>
<rect x="950.5" y="616.8" width="8.5" height="3.0" rx="0.8" fill="#a04426"/>
<rect x="947.5" y="622.7" width="14.5" height="5.2" rx="1.6" fill="#221b19"/>
<rect x="950.5" y="623.8" width="8.5" height="3.0" rx="0.8" fill="#a04426"/>
<rect x="947.5" y="630.4" width="14.5" height="5.2" rx="1.6" fill="#221b19"/>
<rect x="950.5" y="631.5" width="8.5" height="3.0" rx="0.8" fill="#a04426"/>
<rect x="947.5" y="638.1" width="14.5" height="5.2" rx="1.6" fill="#221b19"/>
<rect x="950.5" y="639.2" width="8.5" height="3.0" rx="0.8" fill="#a04426"/>
<rect x="947.5" y="645.8" width="14.5" height="5.2" rx="1.6" fill="#221b19"/>
<rect x="950.5" y="646.9" width="8.5" height="3.0" rx="0.8" fill="#a04426"/>
<rect x="947.5" y="653.5" width="14.5" height="5.2" rx="1.6" fill="#221b19"/>
<rect x="950.5" y="654.6" width="8.5" height="3.0" rx="0.8" fill="#a04426"/>
<rect x="947.5" y="659.9" width="14.5" height="5.2" rx="1.6" fill="#221b19"/>
<rect x="950.5" y="661.0" width="8.5" height="3.0" rx="0.8" fill="#a04426"/>
<rect x="928.4" y="596" width="13.300000000000068" height="81.79999999999995" fill="#242424"/>
<line x1="928.4" y1="600.0" x2="941.7" y2="600.0" stroke="#565656" stroke-width="0.8"/>
<line x1="928.4" y1="606.2" x2="941.7" y2="606.2" stroke="#565656" stroke-width="0.8"/>
<line x1="928.4" y1="612.4" x2="941.7" y2="612.4" stroke="#565656" stroke-width="0.8"/>
<line x1="928.4" y1="618.6" x2="941.7" y2="618.6" stroke="#565656" stroke-width="0.8"/>
<line x1="928.4" y1="624.8" x2="941.7" y2="624.8" stroke="#565656" stroke-width="0.8"/>
<line x1="928.4" y1="631.0" x2="941.7" y2="631.0" stroke="#565656" stroke-width="0.8"/>
<line x1="928.4" y1="637.2" x2="941.7" y2="637.2" stroke="#565656" stroke-width="0.8"/>
<line x1="928.4" y1="643.4" x2="941.7" y2="643.4" stroke="#565656" stroke-width="0.8"/>
<line x1="928.4" y1="649.6" x2="941.7" y2="649.6" stroke="#565656" stroke-width="0.8"/>
<line x1="928.4" y1="655.8" x2="941.7" y2="655.8" stroke="#565656" stroke-width="0.8"/>
<line x1="928.4" y1="662.0" x2="941.7" y2="662.0" stroke="#565656" stroke-width="0.8"/>
<line x1="928.4" y1="668.2" x2="941.7" y2="668.2" stroke="#565656" stroke-width="0.8"/>
<line x1="928.4" y1="674.4" x2="941.7" y2="674.4" stroke="#565656" stroke-width="0.8"/>
<rect x="889.2" y="616.2" width="15.6" height="43.4" rx="6" fill="#151515"/>
<line x1="892.5" y1="619" x2="892.5" y2="657" stroke="#3a3a3a" stroke-width="0.9"/>
<line x1="895.8" y1="619" x2="895.8" y2="657" stroke="#3a3a3a" stroke-width="0.9"/>
<line x1="899.1" y1="619" x2="899.1" y2="657" stroke="#3a3a3a" stroke-width="0.9"/>
<line x1="902.4" y1="619" x2="902.4" y2="657" stroke="#3a3a3a" stroke-width="0.9"/>
<text x="916.5" y="729.8" font-family="Liberation Sans" font-weight="bold" font-size="11" fill="#ee1c25">PL_2004</text>
<g fill="none" stroke="#222" stroke-width="1.5"><path d="M927.2,754 L920.5,754 Q918.5,754 918.5,756 L918.5,774.5 Q918.5,776.5 920.5,776.5 L927.2,776.5"/><rect x="927.2" y="741" width="24" height="23" rx="2"/><rect x="927.2" y="764" width="24" height="24" rx="2"/><path d="M934.4,758.4 L944.8,758.4 M934.4,770.4 L944.8,770.4"/></g>
<text x="956.3" y="762.6" font-family="Liberation Sans" font-weight="bold" font-size="10.6" fill="#222">L</text>
<text x="956" y="775.4" font-family="Liberation Sans" font-weight="bold" font-size="10.6" fill="#222">S</text>
<rect x="898.4" y="801.5" width="16" height="8" fill="#dcdcdc"/><rect x="916" y="801.5" width="64.8" height="8" fill="#dcdcdc"/>
<rect x="898.4" y="817.6" width="16" height="7.5" fill="#dcdcdc"/><rect x="916" y="817.6" width="64.8" height="7.5" fill="#dcdcdc"/>
<rect x="898.4" y="832.8" width="16" height="7.5" fill="#dcdcdc"/><rect x="916" y="832.8" width="64.8" height="7.5" fill="#dcdcdc"/>
<text x="905.5" y="808" font-family="Liberation Sans" font-weight="bold" font-size="5.5" fill="#333">L</text>
<text x="905.5" y="816" font-family="Liberation Sans" font-weight="bold" font-size="5.5" fill="#333">S</text>
<text x="919" y="808" font-family="Liberation Sans" font-size="5.5" fill="#444" textLength="13.5" lengthAdjust="spacingAndGlyphs">Lamp</text>
<text x="919" y="816" font-family="Liberation Sans" font-size="5.5" fill="#444" textLength="40" lengthAdjust="spacingAndGlyphs">Battery Sensor</text>
<circle cx="338.2" cy="566.2" r="6.6" fill="#111"/><circle cx="338.4" cy="562.6" r="1.25" fill="#fff"/><path d="M336.2,564.6 L339.3,564.6 L339.3,568.8000000000001 L340.2,568.8000000000001 L340.2,570.2 L336.0,570.2 L336.0,568.8000000000001 L337.09999999999997,568.8000000000001 L337.09999999999997,565.9000000000001 L336.2,565.9000000000001 Z" fill="#fff"/>
<circle cx="338.2" cy="599.3" r="6.6" fill="#111"/><circle cx="338.4" cy="595.6999999999999" r="1.25" fill="#fff"/><path d="M336.2,597.6999999999999 L339.3,597.6999999999999 L339.3,601.9 L340.2,601.9 L340.2,603.3 L336.0,603.3 L336.0,601.9 L337.09999999999997,601.9 L337.09999999999997,599.0 L336.2,599.0 Z" fill="#fff"/>
<circle cx="743.5" cy="566.2" r="6.6" fill="#111"/><circle cx="743.7" cy="562.6" r="1.25" fill="#fff"/><path d="M741.5,564.6 L744.6,564.6 L744.6,568.8000000000001 L745.5,568.8000000000001 L745.5,570.2 L741.3,570.2 L741.3,568.8000000000001 L742.4,568.8000000000001 L742.4,565.9000000000001 L741.5,565.9000000000001 Z" fill="#fff"/>
<g transform="translate(22,559.5)"><path d="M0.5,1.5 Q0.5,0 2,0 L7.5,0 L14,6.5 Q14.8,7.3 14,8.1 L8.6,13.5 Q7.8,14.2 7,13.5 L0.5,7 Z" fill="#111"/><circle cx="2.8" cy="2.7" r="1.1" fill="#fff"/><path d="M9.5,0 L11,0 L16.5,6.5 Q17.2,7.3 16.5,8.1 L11,13.8 L10,13.3 L15,7.3 Z" fill="#111"/></g>
<g transform="translate(22,593)" fill="none" stroke="#f0141e"><path d="M11.5,6.5 L11.5,9.5 Q11.5,11.3 9.7,11.3 L2.3,11.3 Q0.8,11.3 0.8,9.7 L0.8,2.5 Q0.8,0.9 2.4,0.9 L8.5,0.9" stroke-width="1.6"/><path d="M3.2,4.8 L6,7.4 L12.8,0.8" stroke-width="2.6" stroke-linecap="square"/></g>
<g>
<rect x="846.0" y="583.3" width="11.5" height="1.75" fill="#e3232b"/>
<rect x="844.3" y="586.2" width="13.2" height="1.75" fill="#e3232b"/>
<rect x="842.6" y="589.1" width="14.9" height="1.75" fill="#e3232b"/>
<rect x="840.9" y="592.0" width="16.6" height="1.75" fill="#e3232b"/>
<rect x="839.2" y="594.9" width="18.3" height="1.75" fill="#e3232b"/>
<rect x="837.5" y="597.8" width="20.0" height="1.75" fill="#e3232b"/>
<rect x="835.8" y="600.7" width="21.7" height="1.75" fill="#e3232b"/>
<rect x="834.1" y="603.6" width="23.4" height="1.75" fill="#e3232b"/>
<text x="803" y="606.3" font-family="Liberation Sans" font-weight="bold" font-style="italic" font-size="31" transform="translate(803,606.3) skewX(-22) translate(-803,-606.3)" letter-spacing="-2.2" fill="#fff" stroke="#fff" stroke-width="3.2">AS</text>
<text x="803" y="606.3" font-family="Liberation Sans" font-weight="bold" font-style="italic" font-size="31" transform="translate(803,606.3) skewX(-22) translate(-803,-606.3)" letter-spacing="-2.2" fill="#e3232b" stroke="#e3232b" stroke-width="1.3" stroke-linejoin="round">AS</text>
<text x="786" y="615.5" font-family="Liberation Sans" font-size="6.3" fill="#555" textLength="82" lengthAdjust="spacingAndGlyphs">Alternators, Starters &amp; Parts</text>
</g>
</svg>
<div class="abs t" style="left:44px;top:558px;transform:scaleX(0.94)">AS index: <span class="b">A9127</span></div>
<div class="abs t red" style="left:44px;top:591.5px;transform:scaleX(0.897)">STANDARD LINE</div>
<div class="abs t" style="left:352px;top:558px;transform:scaleX(0.96)">Brand new AS-PL Alternator</div>
<div class="abs t" style="left:352px;top:591.5px;transform:scaleX(0.937)">Product type: <span class="b">Brand new</span></div>
<div class="abs t" style="left:757px;top:558px;transform:scaleX(0.923)">Producer: <span class="b">AS-PL</span></div>

<table class="spec">
<colgroup><col style="width:214px"><col style="width:214px"><col style="width:213px"><col style="width:214px"></colgroup>
<tr><td class="l">Voltage</td><td>12 V</td><td class="l">Amp.</td><td>80 A</td></tr>
<tr><td class="l">Size A</td><td>39.00 mm</td><td class="l">Size B</td><td>12.50 mm</td></tr>
<tr><td class="l">Size C</td><td>56.00 mm</td><td class="l">G</td><td>4 qty.</td></tr>
<tr><td class="l">O.D.1</td><td>65.00 mm</td><td class="l">Pulley</td><td>AP</td></tr>
<tr><td class="l">D.1</td><td>M8x1.25 mm</td><td class="l">D.2</td><td>8.50 mm</td></tr>
<tr><td class="l">D.3</td><td>8.50 mm</td><td class="l">L.1</td><td>166.00 mm</td></tr>
<tr><td class="l">Plug</td><td style="padding-right:9px">PL_2004</td><td class="l"></td><td></td></tr>
</table>
</body></html>
